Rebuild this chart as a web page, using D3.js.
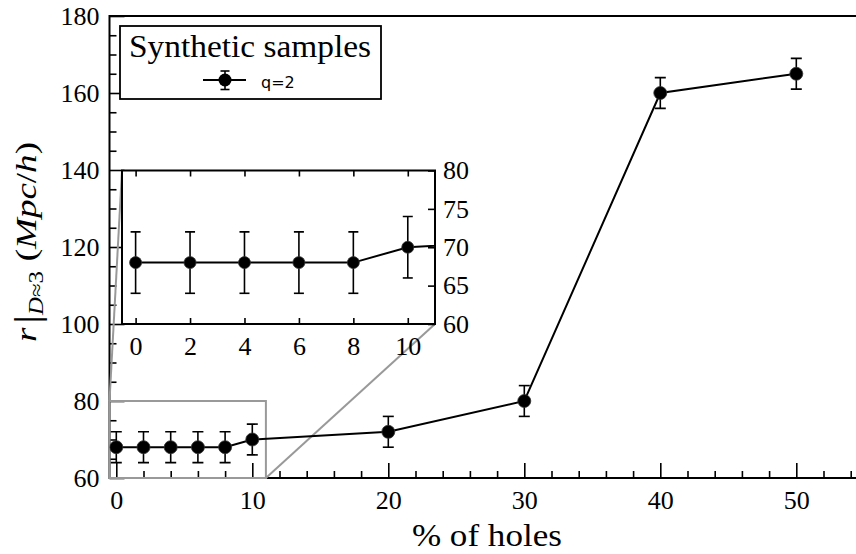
<!DOCTYPE html>
<html>
<head>
  <meta charset="utf-8">
  <title>Synthetic samples</title>
  <script src="https://cdn.jsdelivr.net/npm/d3@7"></script>
  <style>
    body { margin: 0; background: #fff; }
    svg { display: block; }
    .axis path { display: none; }
    .axis line { stroke: #000; stroke-width: 1.6px; }
    .spine { fill: none; stroke: #000; stroke-width: 2px; }
    .line { fill: none; stroke: #000; stroke-width: 2px; }
    .err { stroke: #000; stroke-width: 1.6px; }
    .zoom { fill: none; stroke: #999; stroke-width: 2px; }
  </style>
</head>
<body>
<svg width="856" height="554"></svg>
<script>
  // data
  var holes   = [0, 2, 4, 6, 8, 10, 20, 30, 40, 50];
  var rValues = [68, 68, 68, 68, 68, 70, 72, 80, 160, 165];
  var rErrors = [4, 4, 4, 4, 4, 4, 4, 4, 4, 4];

  var xTicksMain = [0, 10, 20, 30, 40, 50];
  var yTicksMain = [60, 80, 100, 120, 140, 160, 180];
  var xTicksInset = [0, 2, 4, 6, 8, 10];
  var yTicksInset = [60, 65, 70, 75, 80];

  var legendTitle = "Synthetic samples",
      seriesLabel = "q=2";

  var SERIF = "'Liberation Serif'";

  var points = holes.map(function(h, i) {
    return {x: h, y: rValues[i], e: rErrors[i]};
  });

  var svg = d3.select("svg");

  // main axes
  var x = d3.scaleLinear().domain([-0.5, 55]).range([109.5, 864.3]),
      y = d3.scaleLinear().domain([60, 180]).range([478, 16]);

  // inset axes
  var xi = d3.scaleLinear().domain([-0.5, 11]).range([122, 435]),
      yi = d3.scaleLinear().domain([60, 80]).range([324, 170.5]);

  var defs = svg.append("defs");
  defs.append("clipPath").attr("id", "clip-main").append("rect")
      .attr("x", x.range()[0]).attr("y", y.range()[1])
      .attr("width", x.range()[1] - x.range()[0]).attr("height", y.range()[0] - y.range()[1]);
  defs.append("clipPath").attr("id", "clip-inset").append("rect")
      .attr("x", xi.range()[0]).attr("y", yi.range()[1])
      .attr("width", xi.range()[1] - xi.range()[0]).attr("height", yi.range()[0] - yi.range()[1]);

  function minorTicks(lo, hi, step, skip) {
    var t = [];
    for (var v = lo; v <= hi + 1e-9; v += step) {
      if (Math.abs(v % skip) > 1e-9) t.push(+v.toFixed(3));
    }
    return t;
  }

  function styleAxis(g) {
    g.attr("font-family", null).attr("font-size", null);
    g.selectAll("text")
        .style("font-family", SERIF)
        .style("font-size", "26px")
        .attr("fill", "#000");
  }

  // main x axis (ticks point in)
  svg.append("g")
      .attr("class", "axis")
      .attr("transform", "translate(0," + y(60) + ")")
      .call(d3.axisBottom(x).tickValues(xTicksMain).tickSize(-15).tickPadding(12.5).tickFormat(d3.format("d")))
      .call(styleAxis);
  svg.append("g")
      .attr("class", "axis")
      .attr("transform", "translate(0," + y(60) + ")")
      .call(d3.axisBottom(x).tickValues(minorTicks(0, 54, 2, 10)).tickSize(-7).tickFormat(""));

  // main y axis
  svg.append("g")
      .attr("class", "axis")
      .attr("transform", "translate(" + x(-0.5) + ",0)")
      .call(d3.axisLeft(y).tickValues(yTicksMain).tickSize(-15).tickPadding(10).tickFormat(d3.format("d")))
      .call(styleAxis);
  svg.append("g")
      .attr("class", "axis")
      .attr("transform", "translate(" + x(-0.5) + ",0)")
      .call(d3.axisLeft(y).tickValues(minorTicks(60, 180, 5, 20)).tickSize(-7).tickFormat(""));

  // spines (no right spine: it is off the page)
  svg.append("path")
      .attr("class", "spine")
      .attr("d", "M" + x.range()[1] + "," + y(180) + "H" + x(-0.5) + "V" + y(60) + "H" + x.range()[1]);

  // zoom box and connectors
  svg.append("rect")
      .attr("class", "zoom")
      .attr("x", x(-0.5)).attr("y", y(80))
      .attr("width", x(11) - x(-0.5)).attr("height", y(60) - y(80));
  svg.append("line").attr("class", "zoom")
      .attr("x1", x(-0.5)).attr("y1", y(80)).attr("x2", xi(-0.5)).attr("y2", yi(80));
  svg.append("line").attr("class", "zoom")
      .attr("x1", x(11)).attr("y1", y(60)).attr("x2", xi(11)).attr("y2", yi(60));

  function drawSeries(g, sx, sy, cap, r) {
    g.append("path")
        .datum(points)
        .attr("class", "line")
        .attr("d", d3.line().x(function(d) { return sx(d.x); }).y(function(d) { return sy(d.y); }));

    var eb = g.selectAll(".eb")
      .data(points)
      .enter().append("g")
        .attr("class", "eb");
    eb.append("line").attr("class", "err")
        .attr("x1", function(d) { return sx(d.x); }).attr("x2", function(d) { return sx(d.x); })
        .attr("y1", function(d) { return sy(d.y - d.e); }).attr("y2", function(d) { return sy(d.y + d.e); });
    eb.append("line").attr("class", "err")
        .attr("x1", function(d) { return sx(d.x) - cap; }).attr("x2", function(d) { return sx(d.x) + cap; })
        .attr("y1", function(d) { return sy(d.y - d.e); }).attr("y2", function(d) { return sy(d.y - d.e); });
    eb.append("line").attr("class", "err")
        .attr("x1", function(d) { return sx(d.x) - cap; }).attr("x2", function(d) { return sx(d.x) + cap; })
        .attr("y1", function(d) { return sy(d.y + d.e); }).attr("y2", function(d) { return sy(d.y + d.e); });

    g.selectAll(".dot")
      .data(points)
      .enter().append("circle")
        .attr("class", "dot")
        .attr("cx", function(d) { return sx(d.x); })
        .attr("cy", function(d) { return sy(d.y); })
        .attr("r", r)
        .attr("fill", "#000")
        .attr("stroke", "#333")
        .attr("stroke-width", 0.8);
  }

  drawSeries(svg.append("g").attr("clip-path", "url(#clip-main)"), x, y, 5.5, 6.5);

  // inset
  svg.append("rect")
      .attr("x", xi(-0.5)).attr("y", yi(80))
      .attr("width", xi(11) - xi(-0.5)).attr("height", yi(60) - yi(80))
      .attr("fill", "#fff");

  drawSeries(svg.append("g").attr("clip-path", "url(#clip-inset)"), xi, yi, 5, 6);

  svg.append("g")
      .attr("class", "axis")
      .attr("transform", "translate(0," + yi(60) + ")")
      .call(d3.axisBottom(xi).tickValues(xTicksInset).tickSize(-6).tickPadding(12.5).tickFormat(d3.format("d")))
      .call(styleAxis);
  svg.append("g")
      .attr("class", "axis")
      .attr("transform", "translate(0," + yi(80) + ")")
      .call(d3.axisTop(xi).tickValues(xTicksInset).tickSize(-6).tickFormat(""));
  svg.append("g")
      .attr("class", "axis")
      .attr("transform", "translate(" + xi(11) + ",0)")
      .call(d3.axisRight(yi).tickValues(yTicksInset).tickSize(-7).tickPadding(8).tickFormat(d3.format("d")))
      .call(styleAxis);

  svg.append("rect")
      .attr("class", "spine")
      .attr("x", xi(-0.5)).attr("y", yi(80))
      .attr("width", xi(11) - xi(-0.5)).attr("height", yi(60) - yi(80));

  // legend
  var lg = svg.append("g");
  lg.append("rect")
      .attr("x", 120).attr("y", 26).attr("width", 261).attr("height", 73)
      .attr("fill", "#fff").attr("stroke", "#000").attr("stroke-width", 1.8);
  lg.append("text")
      .attr("x", 129).attr("y", 57)
      .attr("textLength", 242).attr("lengthAdjust", "spacingAndGlyphs")
      .style("font-family", SERIF).style("font-size", "31px")
      .text(legendTitle);
  lg.append("line").attr("class", "line").attr("x1", 203).attr("x2", 246).attr("y1", 80).attr("y2", 80);
  lg.append("line").attr("class", "err").attr("x1", 225).attr("x2", 225).attr("y1", 71).attr("y2", 89.5);
  lg.append("line").attr("class", "err").attr("x1", 220.5).attr("x2", 229.5).attr("y1", 71).attr("y2", 71);
  lg.append("line").attr("class", "err").attr("x1", 220.5).attr("x2", 229.5).attr("y1", 89.5).attr("y2", 89.5);
  lg.append("circle").attr("cx", 225).attr("cy", 80).attr("r", 6.5).attr("fill", "#000");
  lg.append("text")
      .attr("x", 261).attr("y", 88)
      .style("font-family", "'DejaVu Sans'").style("font-size", "16px")
      .text(seriesLabel);

  // axis labels
  svg.append("text")
      .attr("x", (x.range()[0] + x.range()[1]) / 2).attr("y", 546)
      .attr("text-anchor", "middle")
      .attr("textLength", 150).attr("lengthAdjust", "spacingAndGlyphs")
      .style("font-family", SERIF).style("font-size", "32px")
      .text("% of holes");

  var yl = svg.append("text")
      .attr("transform", "translate(36,242) rotate(-90)")
      .attr("text-anchor", "middle")
      .attr("textLength", 200).attr("lengthAdjust", "spacingAndGlyphs")
      .style("font-family", SERIF).style("font-size", "30px");
  yl.append("tspan").style("font-style", "italic").text("r");
  yl.append("tspan").attr("dx", 3).style("font-size", "36px").attr("dy", 3).text("|");
  yl.append("tspan").style("font-style", "italic").style("font-size", "20px").attr("dy", 4).text("D");
  yl.append("tspan").style("font-size", "20px").text("\u22483");
  yl.append("tspan").attr("dy", -7).attr("dx", 8).text("(");
  yl.append("tspan").style("font-style", "italic").text("Mpc");
  yl.append("tspan").text("/");
  yl.append("tspan").style("font-style", "italic").text("h");
  yl.append("tspan").text(")");
</script>
</body>
</html>
